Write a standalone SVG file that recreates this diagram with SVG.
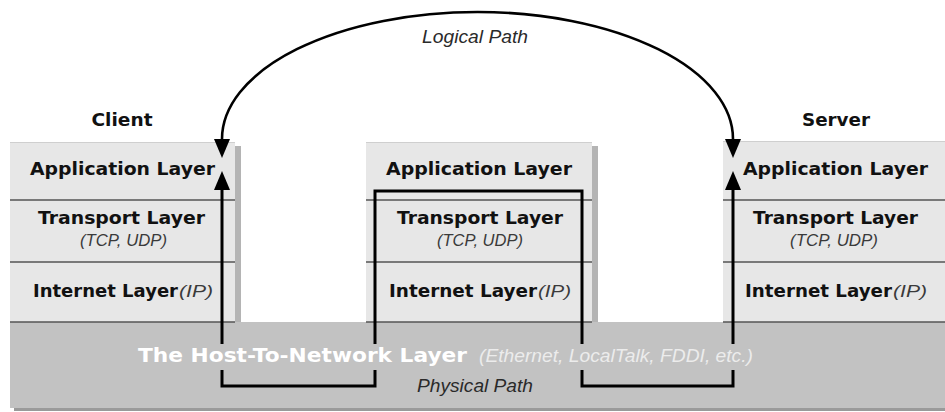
<svg xmlns="http://www.w3.org/2000/svg" width="945" height="412" viewBox="0 0 945 412">
<style>
.box{fill:#e7e7e7}
.shadow{fill:#b4b4b4}
.sep{stroke:#555;stroke-width:1.6;fill:none}
.top{stroke:#cfcfcf;stroke-width:1;fill:none}
.b{font-family:"DejaVu Sans","Liberation Sans",sans-serif;font-weight:bold;font-size:17px;fill:#111}
.i{font-family:"Liberation Sans",Arial,sans-serif;font-style:italic;font-size:16.5px;fill:#3a3a3a}
.hb{font-family:"DejaVu Sans","Liberation Sans",sans-serif;font-weight:bold;font-size:19.5px;fill:#fff}
.hi{font-family:"Liberation Sans",Arial,sans-serif;font-style:italic;font-size:19px;fill:#ececec}
.lbl{font-family:"Liberation Sans",Arial,sans-serif;font-style:italic;font-size:19px;fill:#2a2a2a}
.path{stroke:#000;stroke-width:3;fill:none}
.arc{stroke:#000;stroke-width:2.6;fill:none}
</style>
<defs>
<marker id="ah" markerUnits="userSpaceOnUse" markerWidth="20" markerHeight="16" refX="0" refY="8" orient="auto-start-reverse" viewBox="0 0 20 16">
<path d="M0,0 L19,8 L0,16 z" fill="#000"/>
</marker>
</defs>
<rect width="945" height="412" fill="#fff"/>

<g id="host-network">
<rect x="14" y="408" width="931" height="3" fill="#9a9a9a"/>
<rect x="10" y="322" width="935" height="86" fill="#c2c2c2"/>
</g>

<g id="client">
<rect class="shadow" x="235" y="146" width="6" height="176"/>
<rect class="box" x="10" y="142" width="225" height="180"/>
<line class="top" x1="10" y1="142.5" x2="235" y2="142.5"/>
<line class="sep" x1="10" y1="200" x2="235" y2="200"/>
<line class="sep" x1="10" y1="262" x2="235" y2="262"/>
<line class="sep" x1="10" y1="322" x2="235" y2="322"/>
<text class="b" x="122" y="126" text-anchor="middle" textLength="61" lengthAdjust="spacingAndGlyphs">Client</text>
<text class="b" x="30" y="175" textLength="185" lengthAdjust="spacingAndGlyphs">Application Layer</text>
<text class="b" x="38" y="224" textLength="167" lengthAdjust="spacingAndGlyphs">Transport Layer</text>
<text class="i" x="80" y="246" textLength="87" lengthAdjust="spacingAndGlyphs">(TCP, UDP)</text>
<text class="b" x="33" y="297" textLength="145" lengthAdjust="spacingAndGlyphs">Internet Layer</text>
<text class="i" x="179" y="297" textLength="34" lengthAdjust="spacingAndGlyphs">(IP)</text>
</g>

<g id="router">
<rect class="shadow" x="592" y="146" width="6" height="176"/>
<rect class="box" x="366" y="142" width="226" height="180"/>
<line class="top" x1="366" y1="142.5" x2="592" y2="142.5"/>
<line class="sep" x1="366" y1="200" x2="592" y2="200"/>
<line class="sep" x1="366" y1="262" x2="592" y2="262"/>
<line class="sep" x1="366" y1="322" x2="592" y2="322"/>
<text class="b" x="386" y="175" textLength="186" lengthAdjust="spacingAndGlyphs">Application Layer</text>
<text class="b" x="397" y="224" textLength="166" lengthAdjust="spacingAndGlyphs">Transport Layer</text>
<text class="i" x="437" y="246" textLength="86" lengthAdjust="spacingAndGlyphs">(TCP, UDP)</text>
<text class="b" x="389" y="297" textLength="148" lengthAdjust="spacingAndGlyphs">Internet Layer</text>
<text class="i" x="538" y="297" textLength="33" lengthAdjust="spacingAndGlyphs">(IP)</text>
</g>

<g id="server">
<rect class="box" x="723" y="141" width="222" height="181"/>
<line class="top" x1="723" y1="141.5" x2="945" y2="141.5"/>
<line class="sep" x1="723" y1="200" x2="945" y2="200"/>
<line class="sep" x1="723" y1="262" x2="945" y2="262"/>
<line class="sep" x1="723" y1="322" x2="945" y2="322"/>
<text class="b" x="836" y="126" text-anchor="middle" textLength="68" lengthAdjust="spacingAndGlyphs">Server</text>
<text class="b" x="743" y="175" textLength="185" lengthAdjust="spacingAndGlyphs">Application Layer</text>
<text class="b" x="753" y="224" textLength="165" lengthAdjust="spacingAndGlyphs">Transport Layer</text>
<text class="i" x="790" y="246" textLength="88" lengthAdjust="spacingAndGlyphs">(TCP, UDP)</text>
<text class="b" x="745" y="297" textLength="147" lengthAdjust="spacingAndGlyphs">Internet Layer</text>
<text class="i" x="893" y="297" textLength="34" lengthAdjust="spacingAndGlyphs">(IP)</text>
</g>

<g id="host-network-label">
<text class="hb" x="138" y="362" textLength="329" lengthAdjust="spacingAndGlyphs">The Host-To-Network Layer</text>
<text class="hi" x="479" y="362" textLength="274" lengthAdjust="spacingAndGlyphs">(Ethernet, LocalTalk, FDDI, etc.)</text>
</g>

<g id="connectors">
<path class="arc" d="M222,139 A255.5,127 0 0 1 733,139" marker-start="url(#ah)" marker-end="url(#ah)"/>
<path class="path" d="M222,344 V190" marker-end="url(#ah)"/>
<path class="path" d="M222,370 V386 H375 V370"/>
<path class="path" d="M375,344 V191 H582 V344"/>
<path class="path" d="M582,370 V386 H733 V370"/>
<path class="path" d="M733,344 V190" marker-end="url(#ah)"/>
<text class="lbl" x="475" y="43" text-anchor="middle" textLength="106" lengthAdjust="spacingAndGlyphs">Logical Path</text>
<text class="lbl" x="475" y="392" text-anchor="middle" textLength="116" lengthAdjust="spacingAndGlyphs">Physical Path</text>
</g>
</svg>
